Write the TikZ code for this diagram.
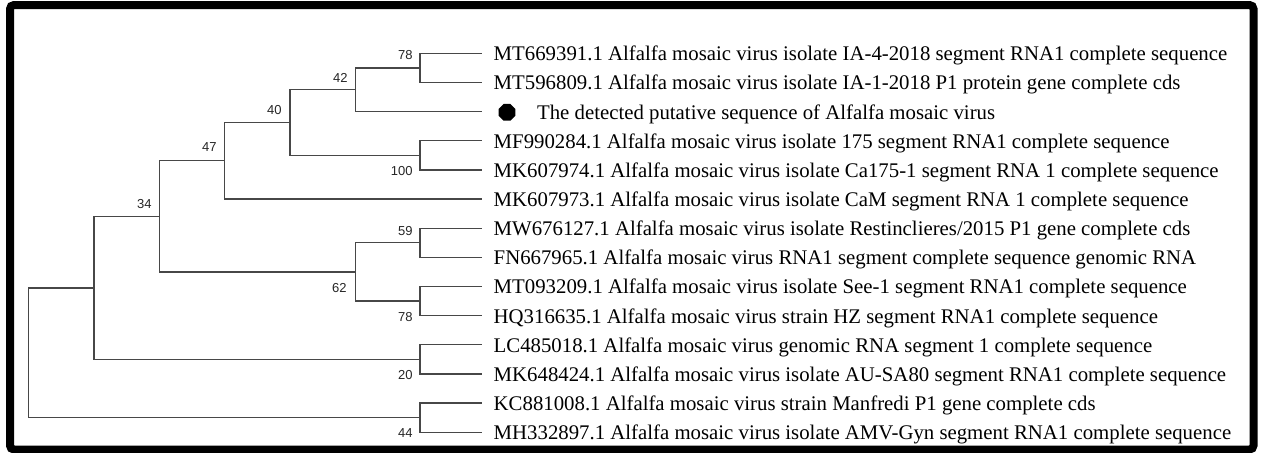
\documentclass[tikz,border=0pt]{standalone}
\usepackage{fontspec}
\setmainfont{Liberation Serif}
\newfontfamily\labfont{Liberation Sans}
\usetikzlibrary{shapes.geometric}
\begin{document}
\begin{tikzpicture}[x=0.5pt,y=-0.5pt,
  branch/.style={draw=black!72, line width=0.65pt},
  taxon/.style={anchor=base west, inner sep=0pt, font=\fontsize{10.4pt}{12pt}\selectfont},
  boot/.style={anchor=east, inner sep=0pt, font=\labfont\fontsize{6.5pt}{7pt}\selectfont, text=black!85},
  frameline/.style={draw=black, line width=4pt, rounded corners=2pt},
  marker/.style={regular polygon, regular polygon sides=8, fill=black, inner sep=0pt, minimum size=9pt}]
\useasboundingbox (0,0) rectangle (1261,452);
\fill[white] (0,0) rectangle (1261,452);
\draw[frameline] (10,5) rectangle (1253.5,449.5);

% leaf ends
\coordinate (L1) at (481.7,53.3);
\coordinate (L2) at (481.7,82.45);
\coordinate (L3) at (481.7,111.6);
\coordinate (L4) at (481.7,140.75);
\coordinate (L5) at (481.7,169.9);
\coordinate (L6) at (481.7,199.05);
\coordinate (L7) at (481.7,228.2);
\coordinate (L8) at (481.7,257.35);
\coordinate (L9) at (481.7,286.5);
\coordinate (L10) at (481.7,315.65);
\coordinate (L11) at (481.7,344.8);
\coordinate (L12) at (481.7,373.95);
\coordinate (L13) at (481.7,403.1);
\coordinate (L14) at (481.7,432.25);

% internal nodes
\coordinate (c78a) at (420,67.875);
\coordinate (n42) at (355.3,89.74);
\coordinate (c100) at (420,155.325);
\coordinate (n40) at (290,122.53);
\coordinate (n47) at (224.7,160.79);
\coordinate (c59) at (420,242.775);
\coordinate (c78b) at (420,301.075);
\coordinate (n62) at (355.3,271.925);
\coordinate (n34) at (159.3,216.36);
\coordinate (c20) at (420,359.375);
\coordinate (nX) at (94,287.87);
\coordinate (c44) at (420,417.675);
\coordinate (root) at (28.3,352.77);

% branches
\draw[branch] (c78a) |- (L1);
\draw[branch] (c78a) |- (L2);
\draw[branch] (n42) |- (c78a);
\draw[branch] (n42) |- (L3);
\draw[branch] (c100) |- (L4);
\draw[branch] (c100) |- (L5);
\draw[branch] (n40) |- (n42);
\draw[branch] (n40) |- (c100);
\draw[branch] (n47) |- (n40);
\draw[branch] (n47) |- (L6);
\draw[branch] (c59) |- (L7);
\draw[branch] (c59) |- (L8);
\draw[branch] (c78b) |- (L9);
\draw[branch] (c78b) |- (L10);
\draw[branch] (n62) |- (c59);
\draw[branch] (n62) |- (c78b);
\draw[branch] (n34) |- (n47);
\draw[branch] (n34) |- (n62);
\draw[branch] (c20) |- (L11);
\draw[branch] (c20) |- (L12);
\draw[branch] (nX) |- (n34);
\draw[branch] (nX) |- (c20);
\draw[branch] (c44) |- (L13);
\draw[branch] (c44) |- (L14);
\draw[branch] (root) |- (nX);
\draw[branch] (root) |- (c44);

% bootstrap values
\node[boot] (b78a) at (413,55.5) {78};
\node[boot] (b42) at (348,78) {42};
\node[boot] (b40) at (282,110.5) {40};
\node[boot] (b47) at (217,147.5) {47};
\node[boot] (b100) at (413,171.5) {100};
\node[boot] (b34) at (152,204) {34};
\node[boot] (b59) at (413,231) {59};
\node[boot] (b62) at (347,288.5) {62};
\node[boot] (b78b) at (413,317.5) {78};
\node[boot] (b20) at (413,375.5) {20};
\node[boot] (b44) at (413,433) {44};

% taxa
\node[taxon] (T1) at (493.3,60.7) {MT669391.1 Alfalfa mosaic virus isolate IA-4-2018 segment RNA1 complete sequence};
\node[taxon] (T2) at (493.3,89.85) {MT596809.1 Alfalfa mosaic virus isolate IA-1-2018 P1 protein gene complete cds};
\node[marker] (M3) at (507,112.3) {};
\node[taxon] (T3) at (536.7,119) {The detected putative sequence of Alfalfa mosaic virus};
\node[taxon] (T4) at (493.3,148.15) {MF990284.1 Alfalfa mosaic virus isolate 175 segment RNA1 complete sequence};
\node[taxon] (T5) at (493.3,177.3) {MK607974.1 Alfalfa mosaic virus isolate Ca175-1 segment RNA 1 complete sequence};
\node[taxon] (T6) at (493.3,206.45) {MK607973.1 Alfalfa mosaic virus isolate CaM segment RNA 1 complete sequence};
\node[taxon] (T7) at (493.3,235.6) {MW676127.1 Alfalfa mosaic virus isolate Restinclieres/2015 P1 gene complete cds};
\node[taxon] (T8) at (493.3,264.75) {FN667965.1 Alfalfa mosaic virus RNA1 segment complete sequence genomic RNA};
\node[taxon] (T9) at (493.3,293.9) {MT093209.1 Alfalfa mosaic virus isolate See-1 segment RNA1 complete sequence};
\node[taxon] (T10) at (493.3,323.05) {HQ316635.1 Alfalfa mosaic virus strain HZ segment RNA1 complete sequence};
\node[taxon] (T11) at (493.3,352.2) {LC485018.1 Alfalfa mosaic virus genomic RNA segment 1 complete sequence};
\node[taxon] (T12) at (493.3,381.35) {MK648424.1 Alfalfa mosaic virus isolate AU-SA80 segment RNA1 complete sequence};
\node[taxon] (T13) at (493.3,410.5) {KC881008.1 Alfalfa mosaic virus strain Manfredi P1 gene complete cds};
\node[taxon] (T14) at (493.3,439.65) {MH332897.1 Alfalfa mosaic virus isolate AMV-Gyn segment RNA1 complete sequence};
\end{tikzpicture}
\end{document}
